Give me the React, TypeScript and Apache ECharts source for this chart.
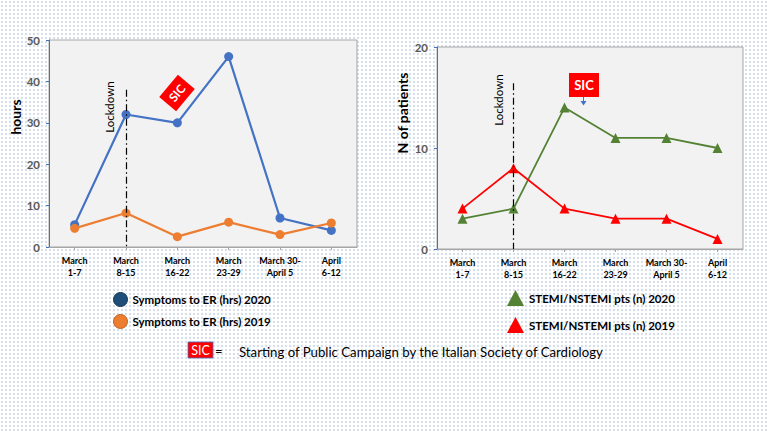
import React, { useEffect, useRef } from "react";
import * as echarts from "echarts";

const categories = ["March\n1-7", "March\n8-15", "March\n16-22", "March\n23-29", "March 30-\nApril 5", "April\n6-12"];
const symptoms2020 = [5.4, 32, 30, 46, 7, 4];
const symptoms2019 = [4.5, 8.2, 2.5, 6, 3, 5.8];
const stemi2020 = [3, 4, 14, 11, 11, 10];
const stemi2019 = [4, 8, 4, 3, 3, 1];
const hoursAxis = { min: 0, max: 50, interval: 10 };
const patientsAxis = { min: 0, max: 20, interval: 10 };
const lockdownIndex = 1;
const lockdownTopHours = 38;
const lockdownTopPatients = 16.4;
const legendNames = [
  "Symptoms to ER (hrs) 2020",
  "Symptoms to ER (hrs) 2019",
  "STEMI/NSTEMI pts (n) 2020",
  "STEMI/NSTEMI pts (n) 2019",
];

const FONT = "Lato, 'Open Sans', sans-serif";

export default function App() {
  const ref = useRef<HTMLDivElement>(null);
  useEffect(() => {
    if (!ref.current) return;
    const chart = echarts.init(ref.current, undefined, { renderer: "svg" });
    const xAxisCommon = {
      type: "category",
      data: categories,
      boundaryGap: true,
      axisLine: { show: true, lineStyle: { color: "#a6a6a6" } },
      axisTick: { show: true, alignWithLabel: true, length: 3, lineStyle: { color: "#a6a6a6" } },
      axisLabel: {
        color: "#000",
        fontWeight: "bold",
        fontSize: 9,
        fontFamily: FONT,
        lineHeight: 12,
        margin: 7,
        interval: 0,
      },
    };
    const yAxisCommon = {
      type: "value",
      splitLine: { show: false },
      axisLine: { show: true, lineStyle: { color: "#4472C4" } },
      axisTick: { show: true, length: 3, lineStyle: { color: "#4472C4" } },
      axisLabel: { color: "#595959", fontWeight: "bold", fontSize: 11.5, fontFamily: FONT, margin: 9 },
    };
    const lockdownLine = (top: number) => ({
      silent: true,
      symbol: "none",
      label: { show: false },
      lineStyle: { color: "#000", width: 1.2, type: [7, 3, 1.5, 3] },
      data: [[{ coord: [lockdownIndex, top] }, { coord: [lockdownIndex, 0] }]],
    });

    chart.setOption({
      animation: false,
      backgroundColor: "transparent",
      textStyle: { fontFamily: FONT },
      grid: [
        { left: 49, top: 40, width: 308, height: 207, show: true, backgroundColor: "#f2f2f2", borderColor: "#a6a6a6", borderWidth: 1 },
        { left: 437, top: 47, width: 306, height: 202, show: true, backgroundColor: "#f2f2f2", borderColor: "#a6a6a6", borderWidth: 1 },
      ],
      xAxis: [
        { ...xAxisCommon, gridIndex: 0 },
        { ...xAxisCommon, gridIndex: 1 },
      ],
      yAxis: [
        { ...yAxisCommon, gridIndex: 0, ...hoursAxis },
        { ...yAxisCommon, gridIndex: 1, ...patientsAxis },
      ],
      legend: [
        {
          left: 113,
          top: 292,
          padding: 0,
          orient: "vertical",
          itemGap: 7,
          itemWidth: 14,
          itemHeight: 14,
          icon: "circle",
          textStyle: { color: "#000", fontWeight: "bold", fontSize: 11.5, fontFamily: FONT },
          data: [
            { name: legendNames[0], itemStyle: { color: "#1F4E79", borderColor: "#16385a", borderWidth: 1 } },
            { name: legendNames[1], itemStyle: { color: "#ED7D31", borderColor: "#c0621f", borderWidth: 1 } },
          ],
        },
        {
          left: 507,
          top: 290,
          padding: 0,
          orient: "vertical",
          itemGap: 11,
          itemWidth: 17,
          itemHeight: 16,
          icon: "triangle",
          textStyle: { color: "#000", fontWeight: "bold", fontSize: 11.5, fontFamily: FONT },
          data: [
            { name: legendNames[2], itemStyle: { color: "#548235" } },
            { name: legendNames[3], itemStyle: { color: "#FF0000" } },
          ],
        },
      ],
      series: [
        {
          name: legendNames[0],
          type: "line",
          xAxisIndex: 0,
          yAxisIndex: 0,
          data: symptoms2020,
          symbol: "circle",
          symbolSize: 9,
          itemStyle: { color: "#4472C4" },
          lineStyle: { color: "#4472C4", width: 2.2 },
          markLine: lockdownLine(lockdownTopHours),
          z: 3,
        },
        {
          name: legendNames[1],
          type: "line",
          xAxisIndex: 0,
          yAxisIndex: 0,
          data: symptoms2019,
          symbol: "circle",
          symbolSize: 9,
          itemStyle: { color: "#ED7D31" },
          lineStyle: { color: "#ED7D31", width: 2.2 },
          z: 4,
        },
        {
          name: legendNames[2],
          type: "line",
          xAxisIndex: 1,
          yAxisIndex: 1,
          data: stemi2020,
          symbol: "triangle",
          symbolSize: 10,
          itemStyle: { color: "#548235" },
          lineStyle: { color: "#548235", width: 1.8 },
          markLine: lockdownLine(lockdownTopPatients),
        },
        {
          name: legendNames[3],
          type: "line",
          xAxisIndex: 1,
          yAxisIndex: 1,
          data: stemi2019,
          symbol: "triangle",
          symbolSize: 10,
          itemStyle: { color: "#FF0000" },
          lineStyle: { color: "#FF0000", width: 1.8 },
        },
      ],
      graphic: [
        {
          type: "text",
          x: 15,
          y: 117,
          rotation: Math.PI / 2,
          style: { text: "hours", fontSize: 14, fontWeight: "bold", fontFamily: FONT, fill: "#000", align: "center", verticalAlign: "middle" },
        },
        {
          type: "text",
          x: 402,
          y: 113,
          rotation: Math.PI / 2,
          style: { text: "N of patients", fontSize: 14, fontWeight: "bold", fontFamily: FONT, fill: "#000", align: "center", verticalAlign: "middle" },
        },
        {
          type: "text",
          x: 109,
          y: 107,
          rotation: Math.PI / 2,
          style: { text: "Lockdown", fontSize: 11.5, fontFamily: FONT, fill: "#000", align: "center", verticalAlign: "middle" },
        },
        {
          type: "text",
          x: 498,
          y: 100,
          rotation: Math.PI / 2,
          style: { text: "Lockdown", fontSize: 11.5, fontFamily: FONT, fill: "#000", align: "center", verticalAlign: "middle" },
        },
        {
          type: "group",
          x: 177,
          y: 93,
          rotation: (50 * Math.PI) / 180,
          children: [
            { type: "rect", shape: { x: -14.5, y: -11, width: 29, height: 22 }, style: { fill: "#FF0000" } },
            {
              type: "text",
              x: 0,
              y: 0,
              style: { text: "SIC", fontSize: 12, fontWeight: "bold", fontFamily: FONT, fill: "#fff", align: "center", verticalAlign: "middle" },
            },
          ],
        },
        { type: "rect", shape: { x: 569, y: 73, width: 30, height: 24 }, style: { fill: "#FF0000" } },
        {
          type: "text",
          x: 584,
          y: 85,
          style: { text: "SIC", fontSize: 13, fontWeight: "bold", fontFamily: FONT, fill: "#fff", align: "center", verticalAlign: "middle" },
        },
        { type: "line", shape: { x1: 583.5, y1: 97, x2: 583.5, y2: 102 }, style: { stroke: "#4472C4", lineWidth: 1 } },
        { type: "polygon", shape: { points: [[580.5, 101], [586.5, 101], [583.5, 105.5]] }, style: { fill: "#4472C4" } },
        { type: "rect", shape: { x: 188, y: 342, width: 25, height: 16 }, style: { fill: "#FF0000", stroke: "#4472C4", lineWidth: 0.8 } },
        {
          type: "text",
          x: 200.5,
          y: 350.5,
          style: { text: "SIC", fontSize: 12.5, fontFamily: FONT, fill: "#fff", align: "center", verticalAlign: "middle" },
        },
        {
          type: "text",
          x: 215,
          y: 351,
          style: { text: "=", fontSize: 13, fontFamily: FONT, fill: "#000", align: "left", verticalAlign: "middle" },
        },
        {
          type: "text",
          x: 239,
          y: 352,
          style: {
            text: "Starting of Public Campaign by the Italian Society of Cardiology",
            fontSize: 13.2,
            fontFamily: FONT,
            fill: "#000",
            align: "left",
            verticalAlign: "middle",
          },
        },
      ],
    });
    return () => chart.dispose();
  }, []);

  return (
    <div
      style={{
        position: "fixed",
        left: 0,
        top: 0,
        width: 768,
        height: 432,
        backgroundColor: "#fff",
        backgroundImage: "radial-gradient(circle, #d3deeb 0.7px, transparent 0.9px)",
        backgroundSize: "4px 4px",
      }}
    >
      <div ref={ref} style={{ width: 768, height: 432 }} />
    </div>
  );
}
